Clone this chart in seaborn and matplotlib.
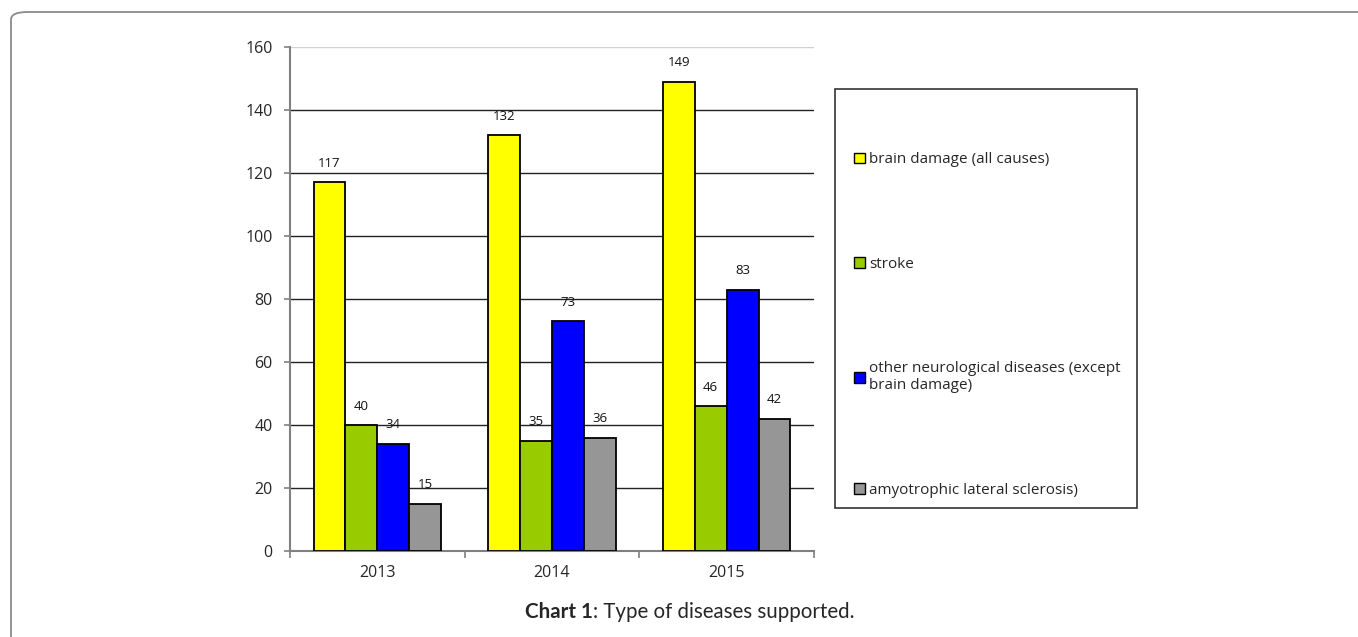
import matplotlib
matplotlib.use("Agg")
import matplotlib.pyplot as plt
from matplotlib.patches import FancyBboxPatch, Rectangle
import seaborn as sns
import pandas as pd

years = ["2013", "2014", "2015"]
diseases = [
    "brain damage (all causes)",
    "stroke",
    "other neurological diseases (except\nbrain damage)",
    "amyotrophic lateral sclerosis)",
]
brain_damage = [117, 132, 149]
stroke = [40, 35, 46]
other_neuro = [34, 73, 83]
als = [15, 36, 42]
colors = ["#FFFF00", "#99CC00", "#0000FF", "#969696"]

rows = []
for name, vals in zip(diseases, [brain_damage, stroke, other_neuro, als]):
    for y, v in zip(years, vals):
        rows.append({"year": y, "disease": name, "count": v})
df = pd.DataFrame(rows)

sns.set_style("white")
plt.rcParams["font.family"] = ["Open Sans", "DejaVu Sans"]

W, H = 1358, 637
fig = plt.figure(figsize=(W / 100, H / 100), dpi=100)
ax = fig.add_axes([290 / W, 1 - 551 / H, (814 - 290) / W, (551 - 47) / H])

sns.barplot(data=df, x="year", y="count", hue="disease", palette=colors,
            saturation=1, width=0.73, gap=0, edgecolor="black", linewidth=1.3,
            legend=False, ax=ax, zorder=3)

for cont in ax.containers:
    ax.bar_label(cont, padding=9, fontsize=9.5, color="#111111")

ax.set_xlim(-0.5, 2.5)
ax.set_ylim(0, 160)
ax.set_yticks(range(0, 161, 20))
ax.set_xlabel("")
ax.set_ylabel("")
ax.grid(axis="y", color="#222222", linewidth=1.0, zorder=0)
ax.yaxis.get_gridlines()[-1].set_color("#d0d0d0")
ax.set_axisbelow(True)

for s in ["top", "right"]:
    ax.spines[s].set_visible(False)
for s in ["left", "bottom"]:
    ax.spines[s].set_color("#808080")
    ax.spines[s].set_linewidth(1.5)

ax.tick_params(axis="y", which="major", direction="out", length=4.5, width=1.2,
               color="#808080", labelsize=11.5, pad=8, left=True)
ax.set_xticks([-0.5, 0.5, 1.5, 2.5], minor=True)
ax.tick_params(axis="x", which="major", length=0, labelsize=11.5, pad=10)
ax.tick_params(axis="x", which="minor", direction="out", length=5, width=1.2,
               color="#808080", bottom=True)

# legend box
fig.add_artist(Rectangle((835 / W, 1 - 508 / H), (1137 - 835) / W, (508 - 89) / H,
                         transform=fig.transFigure, facecolor="white",
                         edgecolor="#333333", linewidth=1.2))
handles = [Rectangle((0, 0), 1, 1, facecolor=c, edgecolor="black", linewidth=1.0)
           for c in colors]
fig.legend(handles, diseases, loc="center left",
           bbox_to_anchor=(848 / W, 1 - 325 / H), frameon=False,
           fontsize=11, handlelength=0.7, handleheight=0.7,
           handletextpad=0.3, labelspacing=5.85, borderaxespad=0)

# outer rounded frame
fig.add_artist(FancyBboxPatch((11 / W, -0.2), 1.2, 1 - 12 / H + 0.2,
                              boxstyle="round,pad=0,rounding_size=0.012",
                              transform=fig.transFigure, facecolor="none",
                              edgecolor="#8a8a8a", linewidth=1.3))

# caption
fig.text(593 / W, 1 - 612 / H, "Chart 1", ha="right", va="center",
         fontsize=14.8, fontweight="bold", family=["Lato", "DejaVu Sans"])
fig.text(593 / W, 1 - 612 / H, ": Type of diseases supported.", ha="left",
         va="center", fontsize=14.8, family=["Lato", "DejaVu Sans"])

fig.savefig("out.png", dpi=100)
